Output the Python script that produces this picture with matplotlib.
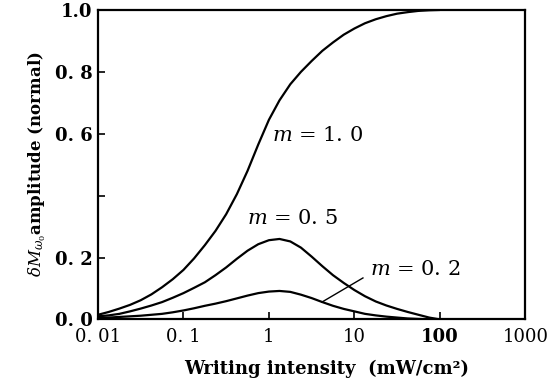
import matplotlib
matplotlib.use('Agg')
import matplotlib.pyplot as plt

plt.rcParams['font.family'] = ['DejaVu Serif']
plt.rcParams['mathtext.fontset'] = 'dejavuserif'

# values at eighth-decade steps
intensity = [0.01, 0.0133, 0.0178, 0.0237, 0.0316, 0.0422, 0.0562, 0.075,
             0.1, 0.133, 0.178, 0.237, 0.316, 0.422, 0.562, 0.75,
             1.0, 1.33, 1.78, 2.37, 3.16, 4.22, 5.62, 7.5,
             10.0, 13.3, 17.8, 23.7, 31.6, 42.2, 56.2, 75.0, 100.0]
amp_m10 = [0.015, 0.024, 0.035, 0.047, 0.062, 0.081, 0.104, 0.13,
           0.16, 0.197, 0.24, 0.286, 0.34, 0.405, 0.48, 0.565,
           0.645, 0.708, 0.76, 0.80, 0.835, 0.868, 0.895, 0.92,
           0.94, 0.957, 0.97, 0.98, 0.988, 0.993, 0.997, 0.999, 1.0]
amp_m05 = [0.01, 0.013, 0.018, 0.026, 0.035, 0.045, 0.056, 0.07,
           0.085, 0.102, 0.12, 0.143, 0.168, 0.196, 0.222, 0.243,
           0.256, 0.26, 0.252, 0.232, 0.203, 0.172, 0.143, 0.118,
           0.095, 0.075, 0.058, 0.045, 0.034, 0.024, 0.015, 0.006, 0.0]
amp_m02 = [0.005, 0.006, 0.008, 0.01, 0.012, 0.015, 0.018, 0.023,
           0.029, 0.036, 0.044, 0.051, 0.059, 0.068, 0.077, 0.085,
           0.09, 0.092, 0.089, 0.08, 0.069, 0.056, 0.044, 0.034,
           0.026, 0.018, 0.013, 0.009, 0.006, 0.003, 0.0015, 0.0005, 0.0]

xticks = [0.01, 0.1, 1, 10, 100, 1000]
xticklabels = ['0. 01', '0. 1', '1', '10', '100', '1000']
yticks = [0.0, 0.2, 0.4, 0.6, 0.8, 1.0]
yticklabels = ['0. 0', '0. 2', '', '0. 6', '0. 8', '1.0']

fig = plt.figure(figsize=(5.6, 3.83), dpi=100)
ax = fig.add_axes([0.175, 0.166, 0.763, 0.808])

for amp in (amp_m10, amp_m05, amp_m02):
    ax.plot(intensity, amp, color='black', lw=1.6, solid_capstyle='round')

ax.set_xscale('log')
ax.set_xlim(0.01, 1000)
ax.set_ylim(0, 1.0)
ax.set_xticks(xticks)
ax.set_xticklabels(xticklabels, fontsize=13)
ax.xaxis.set_minor_locator(matplotlib.ticker.NullLocator())
ax.set_yticks(yticks)
ax.set_yticklabels(yticklabels, fontsize=13, fontweight='bold')
ax.get_xticklabels()[4].set_fontweight('bold')
ax.tick_params(direction='in', length=5, width=1.2)
ax.tick_params(axis='x', pad=6)
ax.tick_params(axis='y', pad=4)
for s in ax.spines.values():
    s.set_linewidth(1.6)

ax.set_xlabel('Writing intensity  (mW/cm²)', fontsize=13, fontweight='bold')
ax.xaxis.set_label_coords(0.536, -0.13)
ax.set_ylabel(r'$\delta M_{\omega_0}$amplitude (normal)', fontsize=12,
              fontweight='bold', labelpad=5)

ax.text(1.08, 0.595, '$m$ = 1. 0', fontsize=15, ha='left', va='center')
ax.text(0.553, 0.327, '$m$ = 0. 5', fontsize=15, ha='left', va='center')
ax.text(15.1, 0.16, '$m$ = 0. 2', fontsize=15, ha='left', va='center')
ax.plot([4.17, 12.6], [0.056, 0.134], color='black', lw=1.0)

fig.savefig('out.png', dpi=100)
